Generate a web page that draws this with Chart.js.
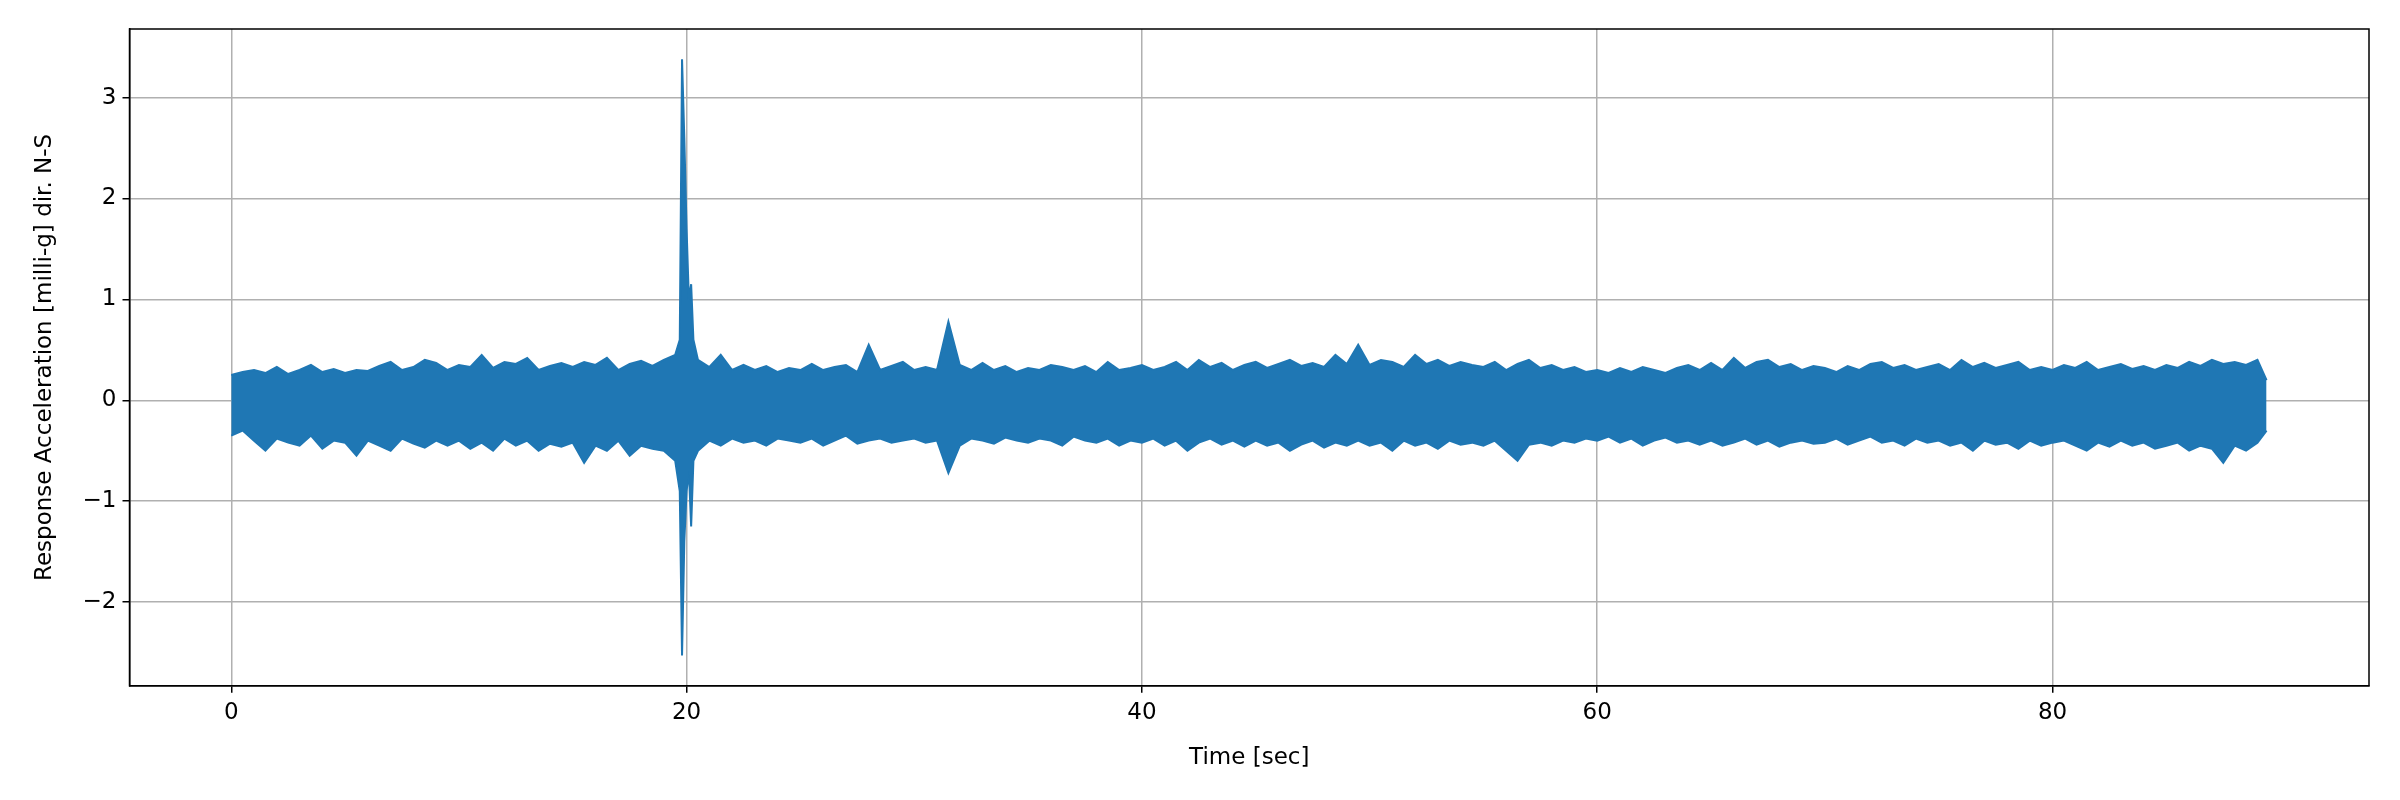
<!DOCTYPE html>
<html><head><meta charset="utf-8">
<script src="https://cdn.jsdelivr.net/npm/chart.js@4/dist/chart.umd.min.js"></script>
<style>html,body{margin:0;background:#fff}#wrap{width:2400px;height:800px}</style>
</head><body><div id="wrap"><canvas id="c"></canvas></div>
<script>
const BLUE='#1f77b4'
// time samples [sec]
const T=[0,0.5,1,1.5,2,2.5,3,3.5,4,4.5,
5,5.5,6,6.5,7,7.5,8,8.5,9,9.5,
10,10.5,11,11.5,12,12.5,13,13.5,14,14.5,
15,15.5,16,16.5,17,17.5,18,18.5,19,19.5,
19.7,19.8,19.9,20.0,20.1,20.2,20.3,
20.5,21,21.5,22,22.5,23,23.5,24,24.5,
25,25.5,26,26.5,27,27.5,28,28.5,29,29.5,
30,30.5,31,31.5,32,32.5,33,33.5,34,34.5,
35,35.5,36,36.5,37,37.5,38,38.5,39,39.5,
40,40.5,41,41.5,42,42.5,43,43.5,44,44.5,
45,45.5,46,46.5,47,47.5,48,48.5,49,49.5,
50,50.5,51,51.5,52,52.5,53,53.5,54,54.5,
55,55.5,56,56.5,57,57.5,58,58.5,59,59.5,
60,60.5,61,61.5,62,62.5,63,63.5,64,64.5,
65,65.5,66,66.5,67,67.5,68,68.5,69,69.5,
70,70.5,71,71.5,72,72.5,73,73.5,74,74.5,
75,75.5,76,76.5,77,77.5,78,78.5,79,79.5,
80,80.5,81,81.5,82,82.5,83,83.5,84,84.5,
85,85.5,86,86.5,87,87.5,88,88.5,89,
89.4]
// upper peaks of the record [milli-g]
const UPPER=[0.25,0.28,0.3,0.27,0.33,0.26,0.3,0.35,0.28,0.31,
0.27,0.3,0.29,0.34,0.38,0.3,0.33,0.4,0.37,0.3,
0.35,0.33,0.45,0.32,0.38,0.36,0.42,0.3,0.34,0.37,
0.33,0.38,0.35,0.42,0.3,0.36,0.39,0.34,0.4,0.45,
0.6,3.38,2.6,1.7,1.0,1.15,0.6,
0.4,0.33,0.45,0.3,0.35,0.3,0.34,0.28,0.32,
0.3,0.36,0.3,0.33,0.35,0.28,0.55,0.3,0.34,0.38,
0.3,0.33,0.3,0.78,0.35,0.3,0.37,0.3,0.34,0.28,
0.32,0.3,0.35,0.33,0.3,0.34,0.28,0.38,0.3,0.32,
0.35,0.3,0.33,0.38,0.3,0.4,0.33,0.37,0.3,0.35,
0.38,0.32,0.36,0.4,0.34,0.37,0.33,0.45,0.36,0.55,
0.35,0.4,0.38,0.33,0.45,0.36,0.4,0.34,0.38,0.35,
0.33,0.38,0.3,0.36,0.4,0.32,0.35,0.3,0.33,0.28,
0.3,0.27,0.32,0.28,0.33,0.3,0.27,0.32,0.35,0.3,
0.37,0.3,0.42,0.32,0.38,0.4,0.33,0.36,0.3,0.34,
0.32,0.28,0.34,0.3,0.36,0.38,0.32,0.35,0.3,0.33,
0.36,0.3,0.4,0.33,0.37,0.32,0.35,0.38,0.3,0.33,
0.3,0.35,0.32,0.38,0.3,0.33,0.36,0.31,0.34,0.3,
0.35,0.32,0.38,0.34,0.4,0.36,0.38,0.35,0.4,
0.2]
// lower peaks of the record [milli-g]
const LOWER=[-0.35,-0.3,-0.4,-0.5,-0.38,-0.42,-0.45,-0.35,-0.48,-0.4,
-0.42,-0.55,-0.4,-0.45,-0.5,-0.38,-0.43,-0.47,-0.4,-0.45,
-0.4,-0.48,-0.42,-0.5,-0.38,-0.45,-0.4,-0.5,-0.43,-0.46,
-0.42,-0.62,-0.45,-0.5,-0.4,-0.55,-0.45,-0.48,-0.5,-0.6,
-0.9,-2.53,-1.4,-0.9,-0.7,-1.25,-0.6,
-0.5,-0.4,-0.45,-0.38,-0.42,-0.4,-0.45,-0.38,-0.4,
-0.42,-0.38,-0.45,-0.4,-0.35,-0.43,-0.4,-0.38,-0.42,-0.4,
-0.38,-0.42,-0.4,-0.72,-0.45,-0.38,-0.4,-0.43,-0.37,-0.4,
-0.42,-0.38,-0.4,-0.45,-0.36,-0.4,-0.42,-0.38,-0.45,-0.4,
-0.42,-0.38,-0.45,-0.4,-0.5,-0.42,-0.38,-0.44,-0.4,-0.46,
-0.4,-0.45,-0.42,-0.5,-0.44,-0.4,-0.47,-0.42,-0.45,-0.4,
-0.45,-0.42,-0.5,-0.4,-0.45,-0.42,-0.48,-0.4,-0.44,-0.42,
-0.45,-0.4,-0.5,-0.6,-0.44,-0.42,-0.45,-0.4,-0.42,-0.38,
-0.4,-0.36,-0.42,-0.38,-0.45,-0.4,-0.37,-0.42,-0.4,-0.44,
-0.4,-0.45,-0.42,-0.38,-0.44,-0.4,-0.46,-0.42,-0.4,-0.43,
-0.42,-0.38,-0.44,-0.4,-0.36,-0.42,-0.4,-0.45,-0.38,-0.42,
-0.4,-0.45,-0.42,-0.5,-0.4,-0.44,-0.42,-0.48,-0.4,-0.45,
-0.42,-0.4,-0.45,-0.5,-0.42,-0.46,-0.4,-0.45,-0.42,-0.48,
-0.45,-0.42,-0.5,-0.45,-0.48,-0.62,-0.45,-0.5,-0.42,
-0.3]
const X_TICKS=[0,20,40,60,80]
const Y_TICKS=[-2,-1,0,1,2,3]

const F={family:'DejaVu Sans',size:23}
const fix=v=>s=>{s.ticks=v.map(x=>({value:x}))}
new Chart(document.getElementById('c'),{
  type:'line',
  data:{datasets:[
    {data:T.map((t,i)=>({x:t,y:UPPER[i]})),borderColor:BLUE,backgroundColor:BLUE,borderWidth:2,pointRadius:0,fill:'+1'},
    {data:T.map((t,i)=>({x:t,y:LOWER[i]})),borderColor:BLUE,backgroundColor:BLUE,borderWidth:2,pointRadius:0,fill:false}
  ]},
  options:{
    responsive:true,maintainAspectRatio:false,animation:false,
    layout:{padding:{left:27,right:31,top:29,bottom:24}},
    plugins:{legend:{display:false},tooltip:{enabled:false}},
    scales:{
      x:{type:'linear',min:-4.47,max:93.9,afterBuildTicks:fix(X_TICKS),
        title:{display:true,text:'Time [sec]',color:'#000',font:F,padding:{top:12}},
        grid:{color:'#b0b0b0',lineWidth:1.5,tickColor:'#000',tickLength:7},
        border:{color:'#000',width:1.5},
        ticks:{color:'#000',font:F,padding:6}},
      y:{min:-2.83,max:3.68,afterBuildTicks:fix(Y_TICKS),
        title:{display:true,text:'Response Acceleration [milli-g] dir. N-S',color:'#000',font:F,padding:{bottom:18}},
        grid:{color:'#b0b0b0',lineWidth:1.5,tickColor:'#000',tickLength:7},
        border:{color:'#000',width:1.5},
        ticks:{color:'#000',font:F,padding:6,callback:v=>String(v).replace('-','\u2212')}}
    }
  },
  plugins:[{id:'frame',afterDraw(c){const a=c.chartArea,x=c.ctx;x.save();x.strokeStyle='#000';x.lineWidth=1.5;x.strokeRect(a.left,a.top,a.right-a.left,a.bottom-a.top);x.restore()}}]
})
</script></body></html>
